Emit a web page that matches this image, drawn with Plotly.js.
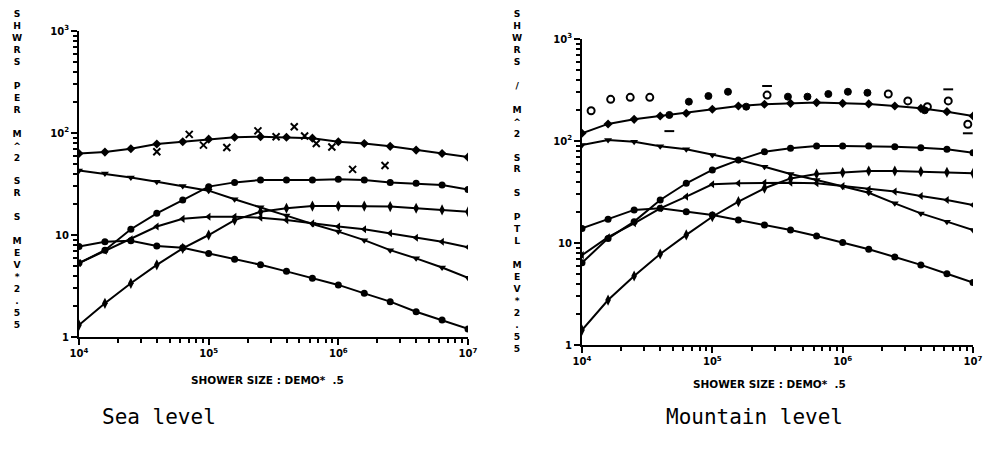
<!DOCTYPE html>
<html>
<head>
<meta charset="utf-8">
<script src="https://cdn.plot.ly/plotly-3.0.1.min.js"></script>
<style>html,body{margin:0;padding:0;background:#fff;}#chart{width:985px;height:449px;}</style>
</head>
<body>
<div id="chart"></div>
<script>
// Shower size exponents (log10 N) of the computed points
const sizeExp = [4.0, 4.2, 4.4, 4.6, 4.8, 5.0, 5.2, 5.4, 5.6, 5.8, 6.0, 6.2, 6.4, 6.6, 6.8, 7.0];

// ---- Sea level curves ----
const seaA = [63, 65, 70, 78, 82, 87, 91, 92, 91, 89, 82, 79, 74, 68, 63, 58];
const seaB = [43, 40, 36.6, 33.3, 30.2, 27.2, 22.4, 18.7, 15.5, 12.8, 10.8, 8.9, 7.1, 5.9, 4.8, 3.8];
const seaC = [5.3, 7.1, 11.4, 16.3, 22, 29.8, 32.8, 34.6, 34.6, 34.6, 35.2, 34.6, 32.8, 32.1, 30.9, 28];
const seaD = [5.3, 7.0, 9.1, 12.1, 14.4, 15.1, 15.1, 14.8, 14, 13, 12.1, 11.4, 10.4, 9.4, 8.6, 7.6];
const seaE = [1.31, 2.14, 3.36, 5.1, 7.4, 10, 14, 16.9, 18.3, 19.2, 19.2, 19.2, 19, 18.3, 17.6, 16.9];
const seaF = [7.7, 8.6, 8.8, 7.8, 7.5, 6.6, 5.8, 5.1, 4.4, 3.76, 3.24, 2.68, 2.22, 1.77, 1.47, 1.2];
// Sea level measured points (crosses)
const seaDataExp = [4.60, 4.85, 4.96, 5.14, 5.38, 5.52, 5.66, 5.74, 5.83, 5.95, 6.11, 6.36];
const seaDataVal = [65.6, 97, 76, 72, 105, 92, 115, 93.5, 79, 73, 44, 48];

// ---- Mountain level curves ----
const mtnA = [119, 147, 163, 176, 187, 205, 220, 229, 234, 238, 234, 231, 220, 209, 194, 176];
const mtnB = [91.4, 102, 98.5, 89, 83, 73, 65, 56, 47.5, 41.5, 35.7, 31.1, 24.5, 19.5, 16.2, 13.4];
const mtnC = [6.4, 11.1, 16.2, 26.4, 38.5, 52, 65, 78.6, 84.7, 89.3, 89.3, 89.3, 88, 86, 82.8, 76.8];
const mtnD = [7.6, 11.4, 15.6, 21.9, 28.5, 37.6, 38.5, 39, 39, 38.5, 36.2, 33.6, 31.9, 28.9, 26.4, 23.6];
const mtnE = [1.40, 2.76, 4.75, 7.8, 12, 18.1, 25.4, 34.4, 43, 47.5, 49, 50.8, 50.8, 50, 49.3, 48.2];
const mtnF = [13.9, 17.1, 21.1, 21.9, 20.3, 18.8, 16.8, 15, 13.4, 11.7, 10.1, 8.7, 7.3, 6.1, 5.0, 4.1];
// Mountain level measured points
const mtnOpenExp = [4.07, 4.22, 4.37, 4.52, 5.42, 6.35, 6.50, 6.65, 6.81, 6.96];
const mtnOpenVal = [198, 256, 268, 268, 282, 289, 247, 217, 247, 146];
const mtnFillExp = [4.67, 4.82, 4.97, 5.12, 5.26, 5.58, 5.73, 5.89, 6.04, 6.19, 6.63];
const mtnFillVal = [180, 243, 276, 304, 217, 272, 272, 289, 304, 297, 200];
const mtnBarExp = [4.67, 5.42, 6.81, 6.96];
const mtnBarVal = [125, 346, 321, 119];

// ---- Text ----
const xTicks = [1e4, 1e5, 1e6, 1e7];
const xTickText = ['10<sup>4</sup>', '10<sup>5</sup>', '10<sup>6</sup>', '10<sup>7</sup>'];
const yTicks = [1, 10, 100, 1000];
const yTickText = ['1', '10', '10<sup>2</sup>', '10<sup>3</sup>'];
const xTitle = 'SHOWER SIZE : DEMO*  .5';
const seaYTitle = 'SHWRS PER M^2 SR S MEV*2.55';
const mtnYTitle = 'SHWRS / M^2 SR S PTL MEV*2.55';
const seaCaption = 'Sea level';
const mtnCaption = 'Mountain level';

const X = sizeExp.map(e => Math.pow(10, e));
const toX = arr => arr.map(e => Math.pow(10, e));

function curve(y, sym, xa, ya, size) {
  return {x: X, y: y, xaxis: xa, yaxis: ya, mode: 'lines+markers', type: 'scatter',
    line: {color: '#000', width: 2},
    marker: {symbol: sym, size: size || 7, color: '#000'}, showlegend: false, hoverinfo: 'skip'};
}
function pts(xe, y, sym, size, xa, ya, lw) {
  return {x: toX(xe), y: y, xaxis: xa, yaxis: ya, mode: 'markers', type: 'scatter',
    marker: {symbol: sym, size: size, color: '#000', line: {color: '#000', width: lw || 2}},
    showlegend: false, hoverinfo: 'skip'};
}

const traces = [
  curve(seaA, 'diamond', 'x', 'y'),
  curve(seaB, 'triangle-down', 'x', 'y'),
  curve(seaC, 'circle', 'x', 'y'),
  curve(seaD, 'triangle-left', 'x', 'y'),
  curve(seaE, 'diamond-tall', 'x', 'y', 8),
  curve(seaF, 'circle', 'x', 'y'),
  pts(seaDataExp, seaDataVal, 'x-thin', 7, 'x', 'y', 2),
  curve(mtnA, 'diamond', 'x2', 'y2'),
  curve(mtnB, 'triangle-down', 'x2', 'y2'),
  curve(mtnC, 'circle', 'x2', 'y2'),
  curve(mtnD, 'triangle-left', 'x2', 'y2'),
  curve(mtnE, 'diamond-tall', 'x2', 'y2', 8),
  curve(mtnF, 'circle', 'x2', 'y2'),
  pts(mtnOpenExp, mtnOpenVal, 'circle-open', 7, 'x2', 'y2', 2),
  pts(mtnFillExp, mtnFillVal, 'circle', 7, 'x2', 'y2', 1),
  pts(mtnBarExp, mtnBarVal, 'line-ew', 7, 'x2', 'y2', 2)
];

// minor ticks 2..9 per decade
const minorX = [], minorY = [];
for (let d = 4; d < 7; d++) for (let k = 2; k <= 9; k++) minorX.push(k * Math.pow(10, d));
for (let d = 0; d < 3; d++) for (let k = 2; k <= 9; k++) minorY.push(k * Math.pow(10, d));

const tickFont = {family: 'DejaVu Sans', size: 10, color: '#000', weight: 'bold'};
function xAxis(dom, anchor) {
  return {type: 'log', range: [4, 7], domain: dom, anchor: anchor,
    tickmode: 'array', tickvals: xTicks, ticktext: xTickText, tickfont: tickFont,
    ticks: 'outside', ticklen: 6, tickwidth: 2, tickcolor: '#000',
    showline: true, linecolor: '#000', linewidth: 2, showgrid: false, zeroline: false,
    minor: {tickmode: 'array', tickvals: minorX, ticks: 'outside', ticklen: 4, tickwidth: 2, tickcolor: '#000', showgrid: false}};
}
function yAxis(dom, anchor) {
  return {type: 'log', range: [0, 3], domain: dom, anchor: anchor,
    tickmode: 'array', tickvals: yTicks, ticktext: yTickText, tickfont: tickFont,
    ticks: 'outside', ticklen: 6, tickwidth: 2, tickcolor: '#000',
    showline: true, linecolor: '#000', linewidth: 2, showgrid: false, zeroline: false,
    minor: {tickmode: 'array', tickvals: minorY, ticks: 'outside', ticklen: 4, tickwidth: 2, tickcolor: '#000', showgrid: false}};
}

const W = 985, H = 449;
const px = v => v / W, py = v => 1 - v / H;
const stack = s => s.split('').map(c => c === ' ' ? '&nbsp;' : c).join('<br>');

const annFont = {family: 'DejaVu Sans', size: 10.5, color: '#000', weight: 'bold'};
const capFont = {family: 'DejaVu Sans Mono', size: 21, color: '#000'};
const layout = {
  width: W, height: H, margin: {l: 0, r: 0, t: 0, b: 0},
  paper_bgcolor: '#fff', plot_bgcolor: '#fff',
  xaxis: xAxis([px(79), px(468)], 'y'),
  yaxis: yAxis([py(337), py(31)], 'x'),
  xaxis2: xAxis([px(582), px(973)], 'y2'),
  yaxis2: yAxis([py(345), py(39)], 'x2'),
  annotations: [
    {text: stack(seaYTitle), xref: 'paper', yref: 'paper', x: px(17), y: py(6), xanchor: 'center', yanchor: 'top',
     showarrow: false, font: {family: 'DejaVu Sans', size: 9.2, color: '#000', weight: 'bold'}, align: 'center'},
    {text: stack(mtnYTitle), xref: 'paper', yref: 'paper', x: px(517), y: py(6), xanchor: 'center', yanchor: 'top',
     showarrow: false, font: {family: 'DejaVu Sans', size: 9.2, color: '#000', weight: 'bold'}, align: 'center'},
    {text: xTitle, xref: 'paper', yref: 'paper', x: px(267), y: py(380), xanchor: 'center', yanchor: 'middle',
     showarrow: false, font: annFont},
    {text: xTitle, xref: 'paper', yref: 'paper', x: px(769), y: py(384), xanchor: 'center', yanchor: 'middle',
     showarrow: false, font: annFont},
    {text: seaCaption, xref: 'paper', yref: 'paper', x: px(100), y: py(417), xanchor: 'left', yanchor: 'middle',
     showarrow: false, font: capFont},
    {text: mtnCaption, xref: 'paper', yref: 'paper', x: px(664), y: py(417), xanchor: 'left', yanchor: 'middle',
     showarrow: false, font: capFont}
  ]
};

Plotly.newPlot('chart', traces, layout, {staticPlot: true, displayModeBar: false});
</script>
</body>
</html>
